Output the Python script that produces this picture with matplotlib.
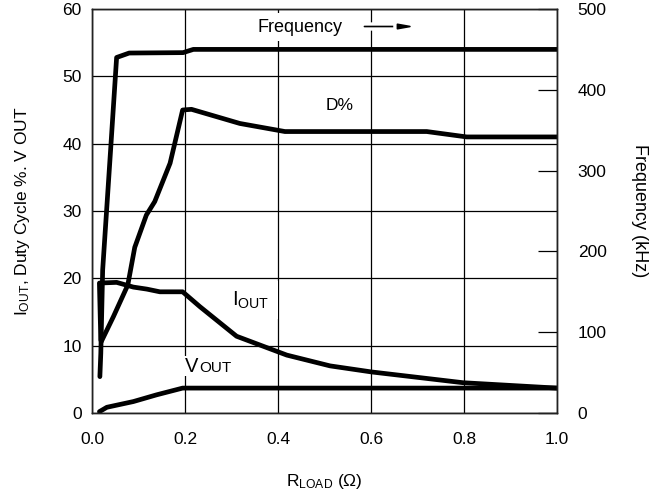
import matplotlib
matplotlib.use("Agg")
import matplotlib.pyplot as plt
import matplotlib.patheffects as pe

plt.rcParams['font.family'] = ['Liberation Sans', 'DejaVu Sans']
plt.rcParams['mathtext.fontset'] = 'custom'
plt.rcParams['mathtext.rm'] = 'Liberation Sans'
plt.rcParams['mathtext.it'] = 'Liberation Sans:italic'

# switching frequency (kHz, right axis) vs load resistance
freq_r = [0.017, 0.019, 0.023, 0.040, 0.053, 0.080, 0.196, 0.218, 1.0]
freq_khz = [45, 74, 177, 325, 440, 445.5, 446, 450, 450]

# duty cycle (%)
duty_r = [0.020, 0.046, 0.077, 0.092, 0.117, 0.135, 0.168, 0.195, 0.214,
          0.318, 0.415, 0.72, 0.806, 1.0]
duty_pct = [10.6, 14.3, 19.0, 24.6, 29.4, 31.4, 37.1, 45.0, 45.1,
            43.0, 41.8, 41.8, 41.0, 41.0]

# output current (A)
iout_r = [0.019, 0.016, 0.053, 0.089, 0.118, 0.146, 0.195, 0.232, 0.311,
          0.419, 0.512, 0.601, 0.798, 1.0]
iout_a = [10.8, 19.3, 19.4, 18.7, 18.4, 18.0, 18.0, 15.8, 11.4,
          8.6, 7.0, 6.1, 4.5, 3.7]

# output voltage (V)
vout_r = [0.016, 0.032, 0.089, 0.139, 0.195, 1.0]
vout_v = [0.2, 0.85, 1.7, 2.7, 3.7, 3.7]

x_ticks = [0.0, 0.2, 0.4, 0.6, 0.8, 1.0]
left_ticks = [0, 10, 20, 30, 40, 50, 60]
right_ticks = [0, 100, 200, 300, 400, 500]

line_kw = dict(color='black', lw=3.4, solid_capstyle='round', solid_joinstyle='round')
fs = 12.5

fig = plt.figure(figsize=(6.65, 4.97), dpi=100)
ax = fig.add_axes([0.1383, 0.169, 0.6992, 0.8129])

ax.plot(duty_r, duty_pct, **line_kw)
ax.plot(iout_r, iout_a, **line_kw)
ax.plot(vout_r, vout_v, **line_kw)

ax.set_xlim(0, 1.0)
ax.set_ylim(0, 60)
ax.set_xticks(x_ticks)
ax.set_xticklabels([f"{t:.1f}" for t in x_ticks])
ax.set_yticks(left_ticks)
ax.grid(True, color='black', lw=0.9)
ax.set_axisbelow(True)
ax.tick_params(axis='x', length=0, pad=13.5, labelsize=fs)
ax.tick_params(axis='y', length=0, pad=7.3, labelsize=fs)
for s in ax.spines.values():
    s.set_linewidth(1.0)
    s.set_color('#222222')

ax.set_xlabel(r"R$_{\rm LOAD}$ (Ω)", fontsize=fs, labelpad=18)
ax.set_ylabel(r"I$_{\rm OUT}$, Duty Cycle %. V OUT", fontsize=fs, labelpad=22)

white = dict(facecolor='white', edgecolor='none', pad=4)
ax.text(0.447, 57.3, "Frequency", fontsize=13, ha='center', va='center', bbox=white, zorder=4)
ax.annotate("", xy=(0.70, 57.4), xytext=(0.58, 57.4),
            arrowprops=dict(arrowstyle='-|>,head_length=0.9,head_width=0.16', color='black', lw=1.2,
                            path_effects=[pe.withStroke(linewidth=6, foreground='white')]),
            zorder=4)
ax.text(0.533, 45.7, "D%", fontsize=fs, ha='center', va='center', zorder=4)
ax.text(0.342, 16.8, r"I$_{\rm OUT}$", fontsize=14.5, ha='center', va='center',
        bbox=dict(facecolor='white', edgecolor='none', pad=6), zorder=4)

# V_OUT label: "OUT" smaller but on the same baseline
ax.text(0.2, 6.13, "V", fontsize=14.5, ha='left', va='baseline',
        bbox=dict(facecolor='white', edgecolor='none', pad=0.5), zorder=4)
ax.text(0.2305, 6.13, "OUT", fontsize=11, ha='left', va='baseline', zorder=4)

ax2 = ax.twinx()
ax2.plot(freq_r, freq_khz, **line_kw)
ax2.set_ylim(0, 500)
ax2.set_yticks(right_ticks)
ax2.tick_params(axis='y', direction='in', length=13.7, width=0.9, pad=15, labelsize=fs)
for s in ax2.spines.values():
    s.set_linewidth(1.0)
    s.set_color('#222222')
ax2.set_ylabel("Frequency (kHz)", fontsize=13, rotation=270, labelpad=30)

fig.savefig("out.png", dpi=100)
